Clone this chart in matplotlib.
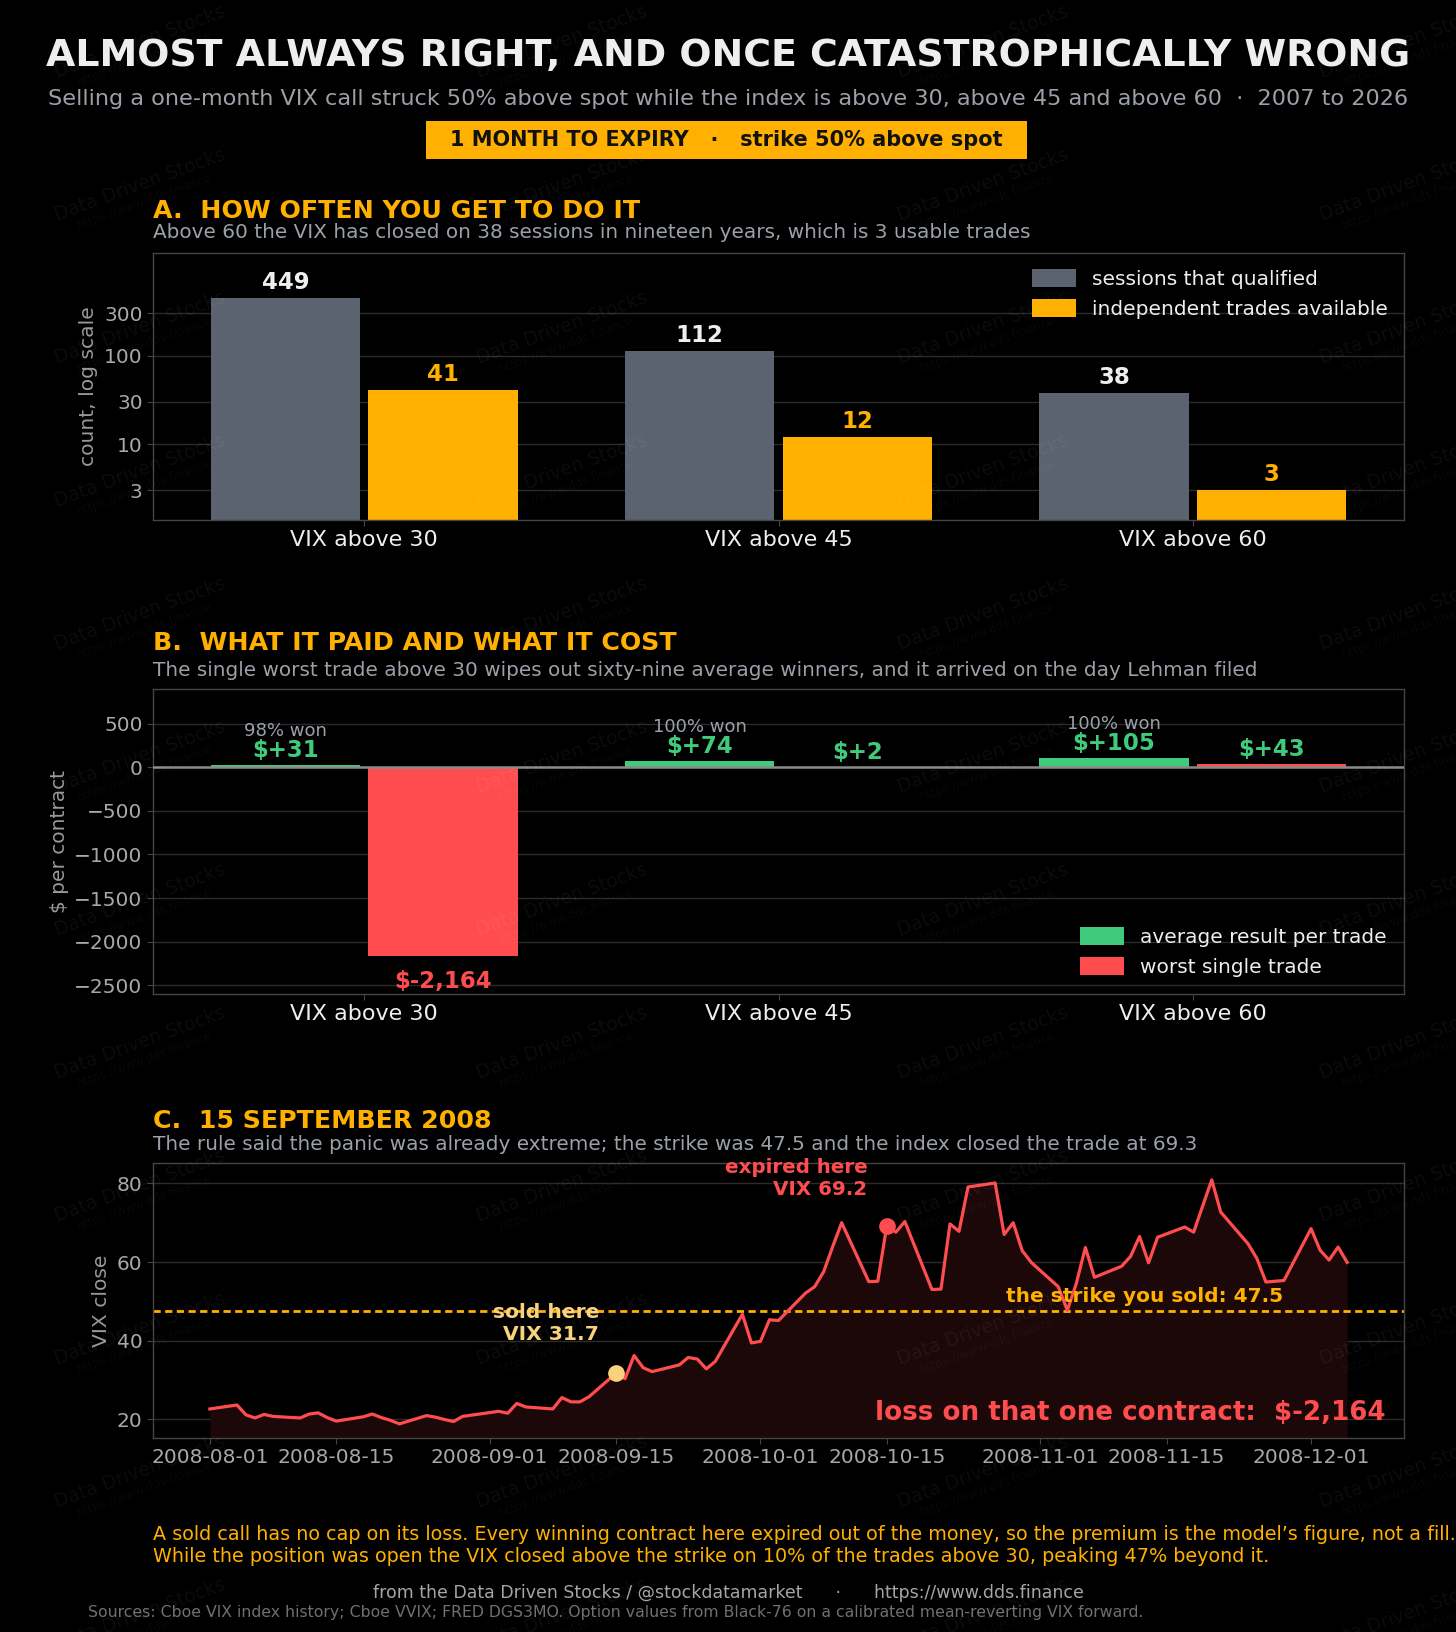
import matplotlib
matplotlib.use("Agg")
import matplotlib.pyplot as plt
import matplotlib.dates as mdates
from matplotlib.patches import Rectangle
from matplotlib.ticker import NullLocator
import numpy as np
import pandas as pd

BG = "#000000"
ORANGE = "#FFB000"
GRAY_BAR = "#5B6370"
GREEN = "#3FCB7B"
RED = "#FF4D4F"
SOLD = "#F8D27C"
TXT = "#EEEEEE"
SUB = "#9CA1A9"
GRID = "#2B2B2B"
SPINE = "#444444"

# panels A and B
groups = ["VIX above 30", "VIX above 45", "VIX above 60"]
sessions = [449, 112, 38]
trades = [41, 12, 3]
avg_result = [31, 74, 105]
worst_trade = [-2164, 2, 43]
win_pct = [98, 100, 100]

# panel C: VIX daily closes, Aug - Dec 2008
vix_dates = [
    "2008-08-01", "2008-08-04", "2008-08-05", "2008-08-06", "2008-08-07", "2008-08-08",
    "2008-08-11", "2008-08-12", "2008-08-13", "2008-08-14", "2008-08-15",
    "2008-08-18", "2008-08-19", "2008-08-20", "2008-08-21", "2008-08-22",
    "2008-08-25", "2008-08-26", "2008-08-27", "2008-08-28", "2008-08-29",
    "2008-09-02", "2008-09-03", "2008-09-04", "2008-09-05",
    "2008-09-08", "2008-09-09", "2008-09-10", "2008-09-11", "2008-09-12",
    "2008-09-15", "2008-09-16", "2008-09-17", "2008-09-18", "2008-09-19",
    "2008-09-22", "2008-09-23", "2008-09-24", "2008-09-25", "2008-09-26",
    "2008-09-29", "2008-09-30", "2008-10-01", "2008-10-02", "2008-10-03",
    "2008-10-06", "2008-10-07", "2008-10-08", "2008-10-09", "2008-10-10",
    "2008-10-13", "2008-10-14", "2008-10-15", "2008-10-16", "2008-10-17",
    "2008-10-20", "2008-10-21", "2008-10-22", "2008-10-23", "2008-10-24",
    "2008-10-27", "2008-10-28", "2008-10-29", "2008-10-30", "2008-10-31",
    "2008-11-03", "2008-11-04", "2008-11-05", "2008-11-06", "2008-11-07",
    "2008-11-10", "2008-11-11", "2008-11-12", "2008-11-13", "2008-11-14",
    "2008-11-17", "2008-11-18", "2008-11-19", "2008-11-20", "2008-11-21",
    "2008-11-24", "2008-11-25", "2008-11-26", "2008-11-28",
    "2008-12-01", "2008-12-02", "2008-12-03", "2008-12-04", "2008-12-05",
]
vix_close = [
    22.6, 23.6, 21.1, 20.3, 21.2, 20.7,
    20.3, 21.3, 21.6, 20.4, 19.5,
    20.6, 21.3, 20.4, 19.7, 18.8,
    20.9, 20.5, 19.9, 19.4, 20.7,
    22.0, 21.5, 24.0, 23.1,
    22.6, 25.5, 24.4, 24.4, 25.7,
    31.7, 30.3, 36.2, 33.1, 32.1,
    33.8, 35.7, 35.3, 32.8, 34.7,
    46.7, 39.4, 39.8, 45.3, 45.1,
    52.1, 53.7, 57.5, 63.9, 70.0,
    55.0, 55.1, 69.25, 67.6, 70.3,
    53.0, 53.1, 69.7, 67.8, 79.1,
    80.1, 67.0, 70.0, 62.9, 59.9,
    53.7, 47.7, 54.6, 63.7, 56.1,
    58.9, 61.4, 66.5, 59.8, 66.3,
    68.9, 67.6, 74.3, 80.9, 72.7,
    64.7, 60.9, 54.9, 55.3,
    68.5, 63.0, 60.5, 63.8, 59.9,
]
sold_date, sold_vix = "2008-09-15", 31.7
expiry_date, expiry_vix = "2008-10-15", 69.25
strike = 47.5
loss = -2164

W, H = 1456, 1632


def fx(px):
    return px / W


def fy(px):
    return 1 - px / H


def style(ax):
    ax.set_facecolor(BG)
    for s in ax.spines.values():
        s.set_color(SPINE)
        s.set_linewidth(1)
    ax.tick_params(axis="y", colors=SPINE, labelcolor="#A8A8A8", labelsize=14.5, length=4)
    ax.tick_params(axis="x", colors=SPINE, labelcolor=TXT, labelsize=16, length=4)
    ax.grid(axis="y", color=GRID, lw=1)
    ax.set_axisbelow(True)


fig = plt.figure(figsize=(W / 100, H / 100), dpi=100, facecolor=BG)

# header
fig.text(0.5, fy(56), "ALMOST ALWAYS RIGHT, AND ONCE CATASTROPHICALLY WRONG",
         ha="center", va="center", color=TXT, fontsize=27.3, fontweight="bold")
fig.text(0.5, fy(99), "Selling a one-month VIX call struck 50% above spot while the index is above 30, "
         "above 45 and above 60  \u00b7  2007 to 2026",
         ha="center", va="center", color=SUB, fontsize=16.1)
fig.patches.append(Rectangle((fx(426), fy(159)), fx(1027) - fx(426), (159 - 121) / H,
                             transform=fig.transFigure, facecolor=ORANGE, edgecolor="none"))
fig.text(fx(726.5), fy(140), "1 MONTH TO EXPIRY   \u00b7   strike 50% above spot",
         ha="center", va="center", color="#111111", fontsize=15, fontweight="bold")


def heading(y_head, y_sub, head, sub):
    fig.text(fx(153), fy(y_head), head, ha="left", va="center", color=ORANGE,
             fontsize=18.2, fontweight="bold")
    fig.text(fx(153), fy(y_sub), sub, ha="left", va="center", color=SUB, fontsize=14.4)


x = np.arange(len(groups))
bw = 0.36
off = 0.19

# ---- A
heading(211, 233, "A.  HOW OFTEN YOU GET TO DO IT",
        "Above 60 the VIX has closed on 38 sessions in nineteen years, which is 3 usable trades")
axA = fig.add_axes([fx(153), fy(519.6), fx(1404) - fx(153), (519.6 - 252.7) / H])
style(axA)
axA.set_yscale("log")
axA.bar(x - off, sessions, bw, color=GRAY_BAR, label="sessions that qualified")
axA.bar(x + off, trades, bw, color=ORANGE, label="independent trades available")
for xi, v in zip(x, sessions):
    axA.annotate(f"{v}", (xi - off, v), xytext=(0, 3), textcoords="offset points",
                 ha="center", va="bottom", color=TXT, fontsize=16.5, fontweight="bold")
for xi, v in zip(x, trades):
    axA.annotate(f"{v}", (xi + off, v), xytext=(0, 3), textcoords="offset points",
                 ha="center", va="bottom", color=ORANGE, fontsize=16.5, fontweight="bold")
axA.set_ylim(1.4, 1450)
axA.set_xlim(-0.51, 2.51)
axA.set_yticks([3, 10, 30, 100, 300])
axA.set_yticklabels(["3", "10", "30", "100", "300"])
axA.yaxis.set_minor_locator(NullLocator())
axA.set_xticks(x, groups)
axA.set_ylabel("count, log scale", color="#999999", fontsize=14.6)
axA.legend(loc="upper right", frameon=False, fontsize=14.5, labelcolor=TXT,
           handlelength=2.2, handleheight=1.0, borderaxespad=0.4)

# ---- B
heading(643, 670, "B.  WHAT IT PAID AND WHAT IT COST",
        "The single worst trade above 30 wipes out sixty-nine average winners, "
        "and it arrived on the day Lehman filed")
axB = fig.add_axes([fx(153), fy(993.8), fx(1404) - fx(153), (993.8 - 689) / H])
style(axB)
axB.bar(x - off, avg_result, bw, color=GREEN, label="average result per trade")
axB.bar(x + off, worst_trade, bw, color=RED, label="worst single trade")
axB.axhline(0, color="#8A8A8A", lw=1.8, zorder=3)
for xi, v, p in zip(x, avg_result, win_pct):
    axB.annotate(f"${v:+,}", (xi - off, v), xytext=(0, 2), textcoords="offset points",
                 ha="center", va="bottom", color=GREEN, fontsize=16.5, fontweight="bold")
    axB.annotate(f"{p}% won", (xi - off, v), xytext=(0, 18), textcoords="offset points",
                 ha="center", va="bottom", color=SUB, fontsize=13)
for xi, v in zip(x, worst_trade):
    if v >= 0:
        axB.annotate(f"${v:+,}", (xi + off, v), xytext=(0, 2), textcoords="offset points",
                     ha="center", va="bottom", color=GREEN, fontsize=16.5, fontweight="bold")
    else:
        axB.annotate(f"${v:+,}", (xi + off, v), xytext=(0, -10), textcoords="offset points",
                     ha="center", va="top", color=RED, fontsize=16.5, fontweight="bold")
axB.set_ylim(-2600, 900)
axB.set_xlim(-0.51, 2.51)
axB.set_yticks([-2500, -2000, -1500, -1000, -500, 0, 500])
axB.set_xticks(x, groups)
axB.set_ylabel("$ per contract", color="#999999", fontsize=14.5)
axB.legend(loc="lower right", frameon=False, fontsize=14.5, labelcolor=TXT,
           handlelength=2.2, handleheight=1.0, borderaxespad=0.45)

# ---- C
heading(1121, 1145, "C.  15 SEPTEMBER 2008",
        "The rule said the panic was already extreme; the strike was 47.5 "
        "and the index closed the trade at 69.3")
axC = fig.add_axes([fx(153), fy(1438), fx(1404) - fx(153), (1438 - 1163) / H])
style(axC)
dates = pd.to_datetime(vix_dates)
ylo, yhi = 15.2, 85.2
axC.fill_between(dates, vix_close, ylo, color="#1C0808", lw=0, zorder=1)
axC.plot(dates, vix_close, color=RED, lw=2.3, zorder=3)
axC.axhline(strike, color=ORANGE, lw=2, ls=(0, (2.6, 1.6)), zorder=2)
sd = pd.Timestamp(sold_date)
ed = pd.Timestamp(expiry_date)
axC.plot([sd], [sold_vix], "o", ms=11, color=SOLD, zorder=5)
axC.plot([ed], [expiry_vix], "o", ms=11, color=RED, zorder=5)
axC.annotate(f"sold here\nVIX {sold_vix:.1f}", (sd, sold_vix), xytext=(-12, 21),
             textcoords="offset points", ha="right", va="bottom", multialignment="right",
             color=SOLD, fontsize=14.6, fontweight="bold", linespacing=1.2)
axC.annotate(f"expired here\nVIX {int(expiry_vix * 10) / 10:.1f}", (ed, expiry_vix),
             xytext=(-14, 19), textcoords="offset points", ha="right", va="bottom",
             multialignment="right", color=RED, fontsize=14.3, fontweight="bold",
             linespacing=1.2)
axC.annotate(f"the strike you sold: {strike}", (0.793, strike),
             xycoords=axC.get_yaxis_transform(), xytext=(0, 4), textcoords="offset points",
             ha="center", va="bottom", color=ORANGE, fontsize=14.5, fontweight="bold")
axC.text(0.9856, 0.091, f"loss on that one contract:  ${loss:,}", transform=axC.transAxes,
         ha="right", va="center", color=RED, fontsize=18.8, fontweight="bold")
axC.set_ylim(ylo, yhi)
axC.set_yticks([20, 40, 60, 80])
axC.xaxis.set_major_locator(mdates.DayLocator(bymonthday=[1, 15]))
axC.xaxis.set_major_formatter(mdates.DateFormatter("%Y-%m-%d"))
axC.tick_params(axis="x", labelcolor="#A8A8A8", labelsize=14.5)
axC.set_ylabel("VIX close", color="#999999", fontsize=14.6)

# footer
fig.text(fx(153), fy(1535), "A sold call has no cap on its loss. Every winning contract here expired "
         "out of the money, so the premium is the model\u2019s figure, not a fill.",
         ha="left", va="center", color=ORANGE, fontsize=13.8)
fig.text(fx(153), fy(1557), "While the position was open the VIX closed above the strike on 10% "
         "of the trades above 30, peaking 47% beyond it.",
         ha="left", va="center", color=ORANGE, fontsize=13.8)
fig.text(0.5, fy(1593), "from the Data Driven Stocks / @stockdatamarket      \u00b7      https://www.dds.finance",
         ha="center", va="center", color="#A5A5A5", fontsize=12.5)
fig.text(fx(88), fy(1613), "Sources: Cboe VIX index history; Cboe VVIX; FRED DGS3MO. Option values "
         "from Black-76 on a calibrated mean-reverting VIX forward.",
         ha="left", va="center", color="#707070", fontsize=11.3)

# watermark tiles
for cx in [140, 562, 983, 1405]:
    for cy in range(42, H + 60, 143):
        fig.text(fx(cx), fy(cy), "Data Driven Stocks", ha="center", va="center",
                 rotation=20, color="white", alpha=0.05, fontsize=13.5, zorder=10)
        fig.text(fx(cx + 5), fy(cy + 17), "https://www.dds.finance", ha="center", va="center",
                 rotation=20, color="white", alpha=0.04, fontsize=8.5, zorder=10)

fig.savefig("out.png", dpi=100, facecolor=BG)
